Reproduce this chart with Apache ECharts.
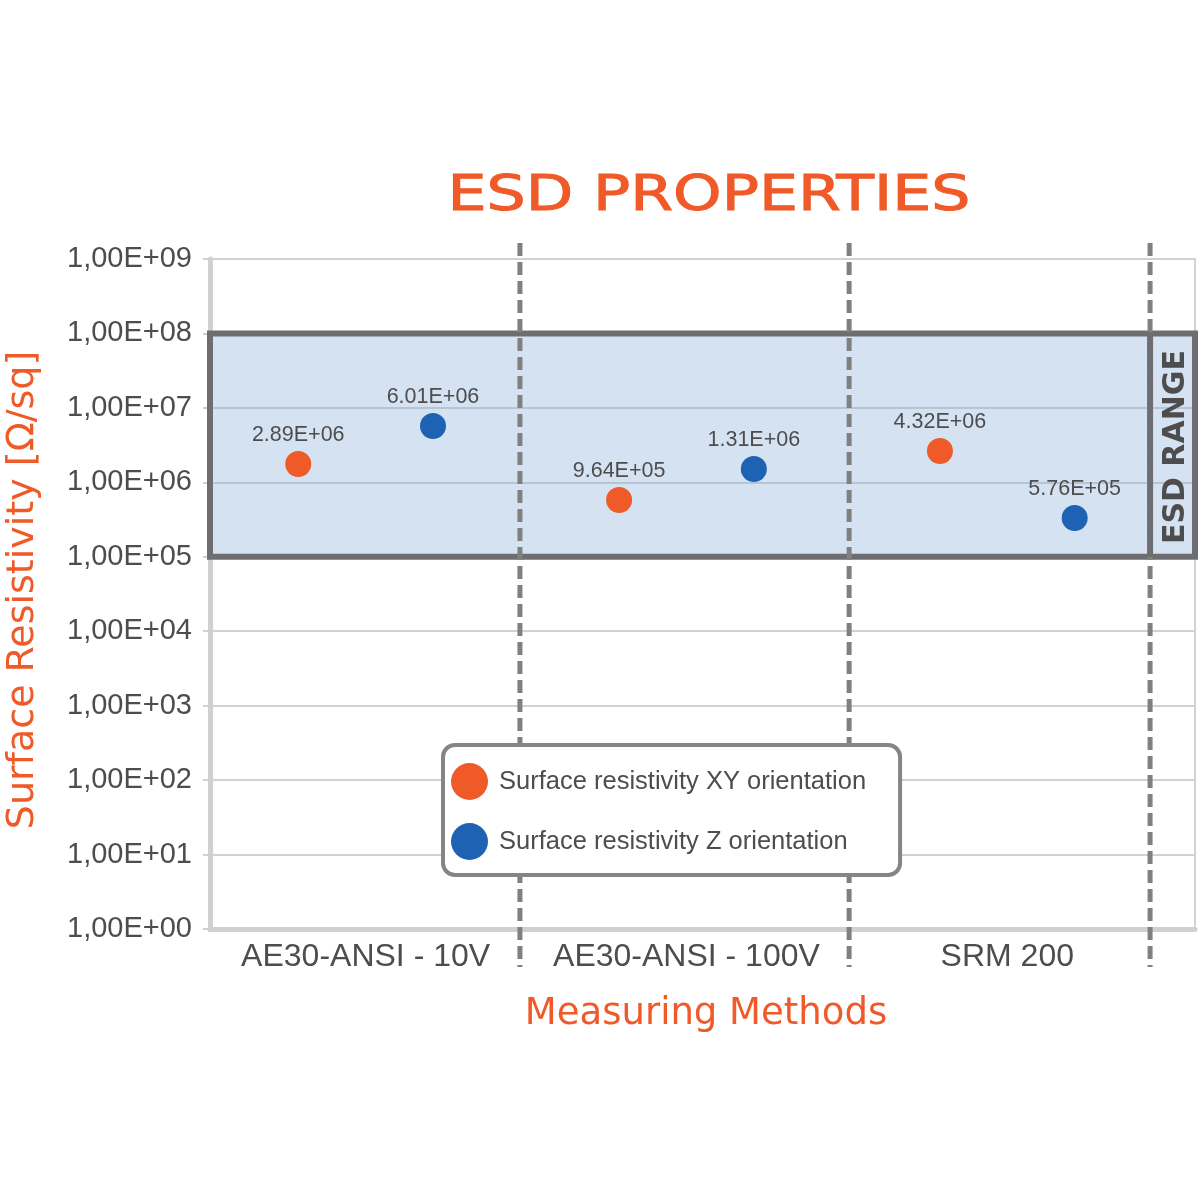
<!DOCTYPE html>
<html><head><meta charset="utf-8">
<script src="https://cdn.jsdelivr.net/npm/echarts@6/dist/echarts.min.js"></script>
<style>html,body{margin:0;padding:0;background:#fff}#c{width:1200px;height:1200px}</style>
</head><body><div id="c"></div>
<script>
// ---- data ----
const methods = ['AE30-ANSI - 10V', 'AE30-ANSI - 100V', 'SRM 200'];
const seriesNames = ['Surface resistivity XY orientation', 'Surface resistivity Z orientation'];
const xyValues = [1.76e6, 5.79e5, 2.64e6];
const zValues = [5.71e6, 1.51e6, 3.32e5];
const xyLabels = ['2.89E+06', '9.64E+05', '4.32E+06'];
const zLabels = ['6.01E+06', '1.31E+06', '5.76E+05'];
const yTickLabels = ['1,00E+00','1,00E+01','1,00E+02','1,00E+03','1,00E+04','1,00E+05','1,00E+06','1,00E+07','1,00E+08','1,00E+09'];
const esdRange = [1e5, 1e8];

// ---- layout / style ----
const FONT = 'Liberation Sans';
const TXT = '#4d4d4d';
const ORANGE = '#f05a28', BLUE = '#1e62b3';
const BOX_BORDER = '#6e6e72';
const X_MIN = -0.485, X_MAX = 2.585;
const OFFSET = 0.21;
const DIVIDERS = [0.481, 1.507, 2.445];

const chart = echarts.init(document.getElementById('c'), null, {renderer: 'canvas'});

const labelStyle = {show: true, position: 'top', distance: 5, fontFamily: FONT, fontSize: 21.5, color: TXT};

const option = {
  animation: false,
  backgroundColor: '#ffffff',
  grid: {left: 210, right: 5, top: 259, bottom: 271, show: true, borderColor: '#d3d3d3', borderWidth: 2, backgroundColor: 'transparent'},
  xAxis: {
    type: 'value', min: X_MIN, max: X_MAX,
    axisLine: {show: true, onZero: false, lineStyle: {color: '#d0d0d0', width: 5}},
    axisTick: {show: false},
    splitLine: {show: false},
    axisLabel: {customValues: [0, 1, 2], formatter: v => methods[Math.round(v)] || '', fontFamily: FONT, fontSize: 32, color: TXT, margin: 12}
  },
  yAxis: {
    type: 'log', logBase: 10, min: 1, max: 1e9, splitNumber: 9,
    axisLine: {show: true, onZero: false, lineStyle: {color: '#d0d0d0', width: 5}},
    axisTick: {show: true, length: 7, lineStyle: {color: '#d0d0d0', width: 2}},
    splitLine: {show: true, lineStyle: {color: '#d2d2d2', width: 2}},
    axisLabel: {formatter: v => yTickLabels[Math.round(Math.log10(v))], fontFamily: FONT, fontSize: 29, color: TXT, margin: 18}
  },
  legend: {
    data: seriesNames, orient: 'vertical', left: 443, top: 745,
    padding: [18, 34, 15, 8], itemGap: 23, itemWidth: 37, itemHeight: 37, icon: 'circle',
    borderColor: '#858585', borderWidth: 4, borderRadius: 12, backgroundColor: '#ffffff', z: 10,
    textStyle: {fontFamily: FONT, fontSize: 25.5, color: TXT, padding: [0, 0, 0, 6]}
  },
  series: [
    {
      name: 'esd-fill', type: 'scatter', data: [], z: 0, silent: true,
      markArea: {silent: true, itemStyle: {color: 'rgba(135,172,215,0.35)'}, data: [[{yAxis: esdRange[0]}, {yAxis: esdRange[1]}]]}
    },
    {
      name: 'esd-border', type: 'scatter', data: [], z: 4, silent: true,
      markArea: {silent: true, itemStyle: {color: 'rgba(0,0,0,0)', borderColor: BOX_BORDER, borderWidth: 6}, data: [[{yAxis: esdRange[0]}, {yAxis: esdRange[1]}]]}
    },
    {
      name: seriesNames[0], type: 'scatter', symbolSize: 26, z: 6,
      itemStyle: {color: ORANGE, opacity: 1},
      data: xyValues.map((v, i) => [i - OFFSET, v]),
      label: Object.assign({formatter: p => xyLabels[p.dataIndex]}, labelStyle)
    },
    {
      name: seriesNames[1], type: 'scatter', symbolSize: 26, z: 6,
      itemStyle: {color: BLUE, opacity: 1},
      data: zValues.map((v, i) => [i + OFFSET, v]),
      label: Object.assign({formatter: p => zLabels[p.dataIndex]}, labelStyle)
    }
  ]
};
chart.setOption(option);

// dividers and annotations computed from axes
const px = (x, y) => chart.convertToPixel({gridIndex: 0}, [x, y]);
const elements = [];
DIVIDERS.forEach(d => {
  const p = px(d, 1);
  elements.push({type: 'line', z: 5, shape: {x1: p[0], y1: 243, x2: p[0], y2: 967},
    style: {stroke: '#808080', lineWidth: 5, lineDash: [13, 6]}});
});
const pTop = px(DIVIDERS[2], esdRange[1]);
const pBot = px(DIVIDERS[2], esdRange[0]);
elements.push({type: 'line', z: 6, shape: {x1: pTop[0], y1: pTop[1], x2: pBot[0], y2: pBot[1]},
  style: {stroke: BOX_BORDER, lineWidth: 6}});
const pMid = px((DIVIDERS[2] + X_MAX) / 2, Math.sqrt(esdRange[0] * esdRange[1]));
elements.push({type: 'text', z: 6, x: pMid[0] + 4, y: pMid[1] + 2, rotation: Math.PI / 2,
  style: {text: 'ESD RANGE', fontFamily: 'DejaVu Sans', fontWeight: 'bold', fontSize: 30, fill: TXT, align: 'center', verticalAlign: 'middle'}});
elements.push({type: 'text', z: 6, x: 709, y: 197, scaleX: 1.26,
  style: {text: 'ESD PROPERTIES', fontFamily: 'DejaVu Sans', fontSize: 49, fill: ORANGE, stroke: ORANGE, lineWidth: 1, align: 'center', verticalAlign: 'middle'}});
elements.push({type: 'text', z: 6, x: 23, y: 590, rotation: Math.PI / 2,
  style: {text: 'Surface Resistivity [Ω/sq]', fontFamily: 'DejaVu Sans', fontSize: 38, fill: ORANGE, align: 'center', verticalAlign: 'middle'}});
elements.push({type: 'text', z: 6, x: 706, y: 1014,
  style: {text: 'Measuring Methods', fontFamily: 'DejaVu Sans', fontSize: 37, fill: ORANGE, align: 'center', verticalAlign: 'middle'}});
chart.setOption({graphic: {elements: elements}});
</script>
</body></html>
